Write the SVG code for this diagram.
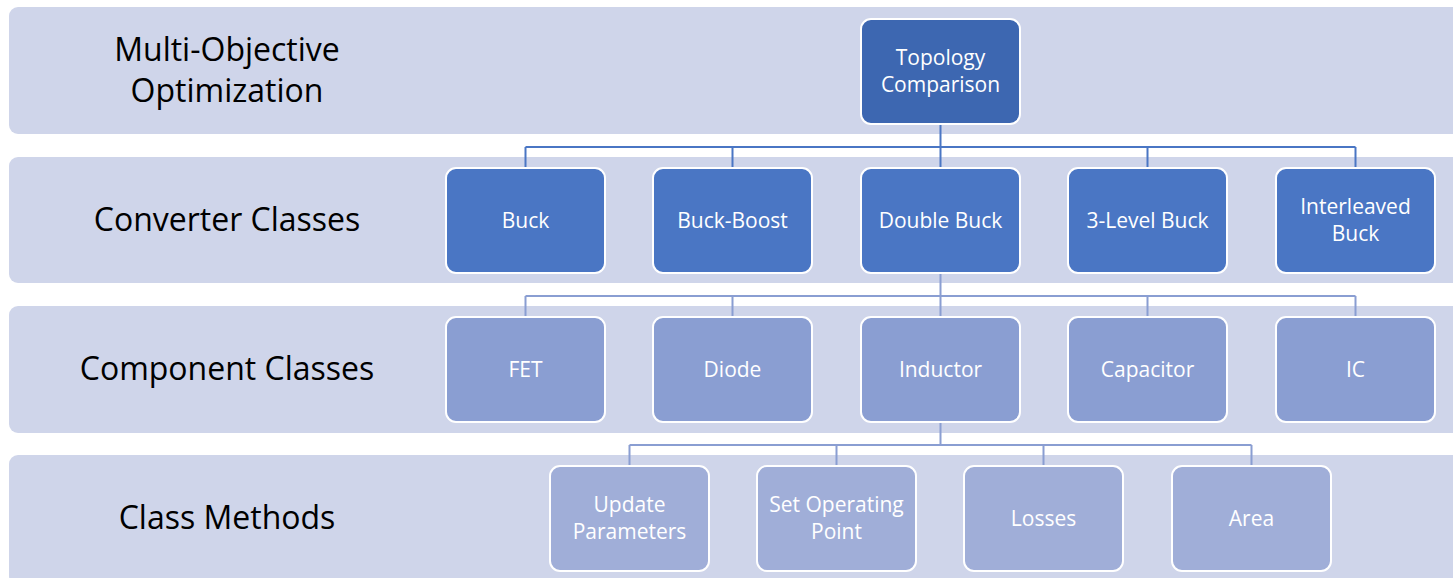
<svg xmlns="http://www.w3.org/2000/svg" width="1453" height="578" viewBox="0 0 1453 578">
<style>
.band{fill:#CFD5EA;}
.lbl{font-family:"Open Sans","Liberation Sans",sans-serif;font-size:32px;fill:#000;text-anchor:middle;}
.box{stroke:#FFFFFF;stroke-width:2;}
.t{font-family:"Open Sans","Liberation Sans",sans-serif;font-size:21px;fill:#FFFFFF;text-anchor:middle;}
.l0{fill:#3D67B1;}
.l1{fill:#4A76C4;}
.l2{fill:#8A9ED2;}
.l3{fill:#A0AED8;}
.c1{fill:none;stroke:#4A76C4;stroke-width:2;}
.c2{fill:none;stroke:#8A9ED2;stroke-width:2;}
</style>
<rect width="1453" height="578" fill="#FFFFFF"/>
<g id="bands">
<rect class="band" x="9" y="7" width="1460" height="127" rx="9"/>
<rect class="band" x="9" y="157" width="1460" height="126" rx="9"/>
<rect class="band" x="9" y="306" width="1460" height="127" rx="9"/>
<rect class="band" x="9" y="455" width="1460" height="130" rx="9"/>
</g>
<g id="labels">
<text class="lbl" x="227" y="61">Multi-Objective</text>
<text class="lbl" x="227" y="102">Optimization</text>
<text class="lbl" x="227" y="231">Converter Classes</text>
<text class="lbl" x="227" y="380">Component Classes</text>
<text class="lbl" x="227" y="529">Class Methods</text>
</g>
<g id="connectors">
<path class="c1" d="M940.5 124V147M525.5 147H1355.5M525.5 147V168M732.5 147V168M940.5 147V168M1147.5 147V168M1355.5 147V168"/>
<path class="c2" d="M940.5 273V296M525.5 296H1355.5M525.5 296V317M732.5 296V317M940.5 296V317M1147.5 296V317M1355.5 296V317"/>
<path class="c2" d="M940.5 422V445M629.5 445H1251.5M629.5 445V466M836.5 445V466M1043.5 445V466M1251.5 445V466"/>
</g>
<g id="topology"><rect class="box l0" x="861" y="19" width="159" height="105" rx="10"/><text class="t" x="940.5" y="65">Topology</text><text class="t" x="940.5" y="92">Comparison</text></g>
<g id="buck"><rect class="box l1" x="446" y="168" width="159" height="105" rx="10"/><text class="t" x="525.5" y="228">Buck</text></g>
<g id="buck-boost"><rect class="box l1" x="653" y="168" width="159" height="105" rx="10"/><text class="t" x="732.5" y="228">Buck-Boost</text></g>
<g id="double-buck"><rect class="box l1" x="861" y="168" width="159" height="105" rx="10"/><text class="t" x="940.5" y="228">Double Buck</text></g>
<g id="three-level-buck"><rect class="box l1" x="1068" y="168" width="159" height="105" rx="10"/><text class="t" x="1147.5" y="228">3-Level Buck</text></g>
<g id="interleaved-buck"><rect class="box l1" x="1276" y="168" width="159" height="105" rx="10"/><text class="t" x="1355.5" y="214">Interleaved</text><text class="t" x="1355.5" y="241">Buck</text></g>
<g id="fet"><rect class="box l2" x="446" y="317" width="159" height="105" rx="10"/><text class="t" x="525.5" y="377">FET</text></g>
<g id="diode"><rect class="box l2" x="653" y="317" width="159" height="105" rx="10"/><text class="t" x="732.5" y="377">Diode</text></g>
<g id="inductor"><rect class="box l2" x="861" y="317" width="159" height="105" rx="10"/><text class="t" x="940.5" y="377">Inductor</text></g>
<g id="capacitor"><rect class="box l2" x="1068" y="317" width="159" height="105" rx="10"/><text class="t" x="1147.5" y="377">Capacitor</text></g>
<g id="ic"><rect class="box l2" x="1276" y="317" width="159" height="105" rx="10"/><text class="t" x="1355.5" y="377">IC</text></g>
<g id="update-parameters"><rect class="box l3" x="550" y="466" width="159" height="105" rx="10"/><text class="t" x="629.5" y="512">Update</text><text class="t" x="629.5" y="539">Parameters</text></g>
<g id="set-operating-point"><rect class="box l3" x="757" y="466" width="159" height="105" rx="10"/><text class="t" x="836.5" y="512">Set Operating</text><text class="t" x="836.5" y="539">Point</text></g>
<g id="losses"><rect class="box l3" x="964" y="466" width="159" height="105" rx="10"/><text class="t" x="1043.5" y="526">Losses</text></g>
<g id="area"><rect class="box l3" x="1172" y="466" width="159" height="105" rx="10"/><text class="t" x="1251.5" y="526">Area</text></g>
</svg>
